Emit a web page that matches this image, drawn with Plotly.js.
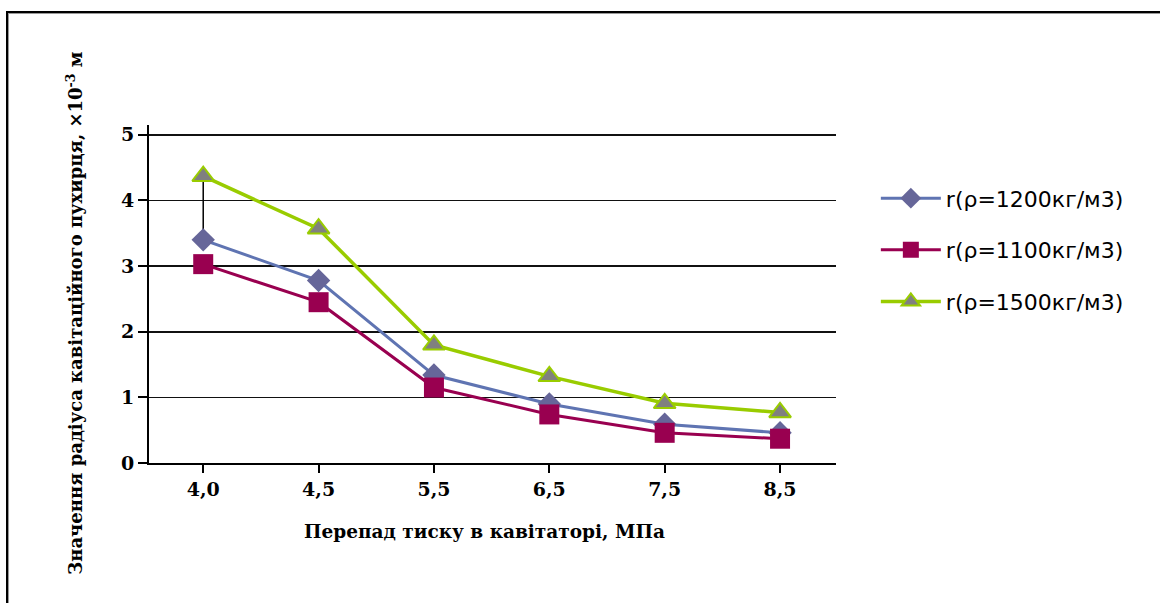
<!DOCTYPE html>
<html>
<head>
<meta charset="utf-8">
<script src="https://cdn.plot.ly/plotly-3.0.1.min.js"></script>
<style>
  html, body { margin: 0; padding: 0; background: #fff; overflow: hidden; }
  #wrap { position: relative; width: 1160px; height: 603px; }
  #frame { position: absolute; left: 6px; top: 11px; width: 1200px; height: 700px;
           border-left: 2px solid #000; border-top: 2px solid #000; box-shadow: inset 1px 1px 0 #999; pointer-events: none; }
  #chart { position: absolute; left: 0; top: 0; width: 1160px; height: 603px; }
</style>
</head>
<body>
<div id="wrap">
  <div id="chart"></div>
  <div id="frame"></div>
</div>
<script>
// Data
const categories = ['4,0', '4,5', '5,5', '6,5', '7,5', '8,5'];
const r1200 = [3.40, 2.78, 1.34, 0.90, 0.59, 0.46];
const r1100 = [3.03, 2.45, 1.15, 0.74, 0.46, 0.37];
const r1500 = [4.37, 3.57, 1.80, 1.32, 0.91, 0.77];
const seriesNames = ['r(ρ=1200кг/м3)', 'r(ρ=1100кг/м3)', 'r(ρ=1500кг/м3)'];

const serif = '"DejaVu Serif", serif';
const sans = '"DejaVu Sans", Verdana, sans-serif';

const traces = [
  // high-low style connector at first category
  {
    x: [categories[0], categories[0]],
    y: [r1200[0], r1500[0]],
    mode: 'lines',
    line: {color: '#000', width: 1.5},
    showlegend: false,
    hoverinfo: 'skip'
  },
  {
    x: categories, y: r1200, name: seriesNames[0], legendgroup: 'a',
    mode: 'lines+markers',
    line: {color: '#5f74b2', width: 3},
    marker: {symbol: 'diamond', size: 18, color: '#666699', line: {width: 0}}
  },
  {
    x: categories, y: r1100, name: seriesNames[1], legendgroup: 'b',
    mode: 'lines+markers',
    line: {color: '#990050', width: 3},
    marker: {symbol: 'square', size: 20, color: '#990050', line: {width: 0}}
  },
  {
    x: categories, y: r1500, name: seriesNames[2], legendgroup: 'c',
    mode: 'lines+markers',
    line: {color: '#99cc00', width: 3.5},
    marker: {symbol: 'triangle-up', size: 19, color: '#808080', line: {color: '#99cc00', width: 2}}
  }
];

const layout = {
  width: 1160, height: 603,
  margin: {l: 149, r: 324, t: 125, b: 140},
  paper_bgcolor: '#fff', plot_bgcolor: '#fff',
  showlegend: true,
  legend: {
    x: 1.058, y: 0.845, xanchor: 'left', yanchor: 'top',
    font: {family: sans, size: 22, color: '#000'},
    itemwidth: 60, tracegroupgap: 20,
    bgcolor: 'rgba(0,0,0,0)'
  },
  xaxis: {
    type: 'category',
    range: [-0.47, 5.485],
    showgrid: false, zeroline: false,
    showline: true, linecolor: '#000', linewidth: 2,
    ticks: 'outside', ticklen: 8, tickwidth: 2, tickcolor: '#000',
    tickfont: {family: serif, size: 19, color: '#000', weight: 'bold'},
    fixedrange: true
  },
  yaxis: {
    range: [0, 5.15],
    tickvals: [0, 1, 2, 3, 4, 5],
    showgrid: true, gridcolor: '#111', gridwidth: 1.6,
    zeroline: false,
    showline: true, linecolor: '#000', linewidth: 2,
    ticks: 'outside', ticklen: 9, tickwidth: 2, tickcolor: '#000',
    tickfont: {family: serif, size: 19, color: '#000', weight: 'bold'},
    fixedrange: true
  },
  annotations: [
    {
      text: 'Значення радіуса кавітаційного пухирця, ×10<sup>-3</sup> м',
      xref: 'paper', yref: 'paper', x: -0.108, y: 0.444,
      xanchor: 'center', yanchor: 'middle', textangle: -90, showarrow: false,
      font: {family: serif, size: 18, color: '#000', weight: 'bold'}
    },
    {
      text: 'Перепад тиску в кавітаторі, МПа',
      xref: 'paper', yref: 'paper', x: 0.488, y: -0.204,
      xanchor: 'center', yanchor: 'middle', showarrow: false,
      font: {family: serif, size: 18.5, color: '#000', weight: 'bold'}
    }
  ]
};

Plotly.newPlot('chart', traces, layout, {displayModeBar: false, staticPlot: true});
</script>
</body>
</html>
